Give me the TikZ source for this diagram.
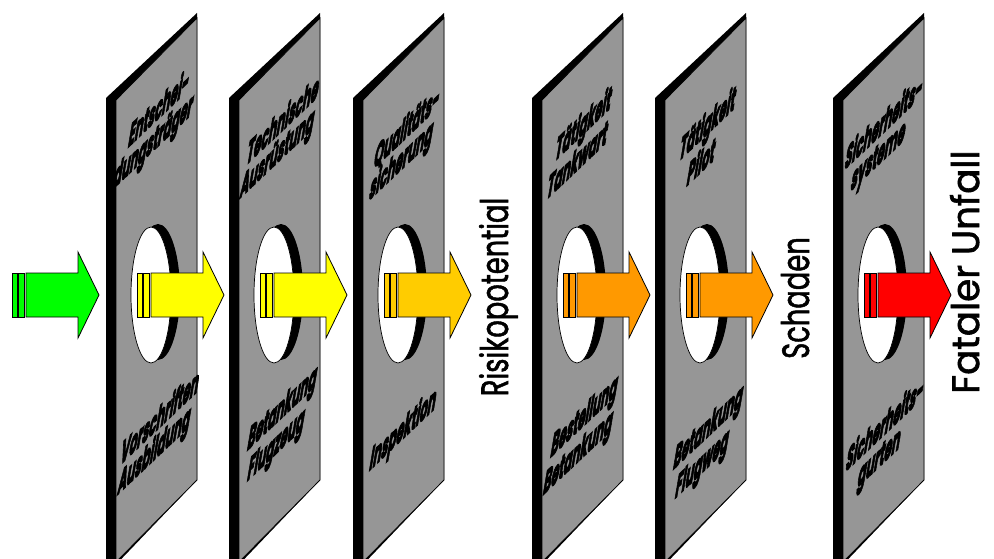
\documentclass[tikz,border=0pt]{standalone}
\usepackage{fontspec}
\newfontfamily\popb[BoldFeatures={FakeBold=5}]{Poppins}
\newfontfamily\popm[FakeBold=1.6]{Poppins}
\definecolor{pgray}{HTML}{969696}
\definecolor{agreen}{HTML}{00FF00}
\definecolor{ayellow}{HTML}{FFFF00}
\definecolor{aamber}{HTML}{FFCC00}
\definecolor{aorange}{HTML}{FF9900}
\definecolor{ared}{HTML}{FF0000}
\newcommand\slabpanel[1]{%
  \fill[black] (#1,575) -- (#1,98) -- (#1+91,13) -- (#1+91,480) -- cycle;
  \draw[panelface] (#1+10,100) -- (#1+91,18) -- (#1+91,480) -- (#1+10,562) -- cycle;
  \fill[black] (#1+52,292) ellipse [x radius=22pt, y radius=68pt];
  \draw[fill=white, line width=0.7pt] (#1+45,295) ellipse [x radius=20pt, y radius=68pt];
}
\newcommand\flowarrow[2]{%
  \draw[arrowpart, fill=#2] (#1,273) rectangle (#1+5,317);
  \draw[arrowpart, fill=#2] (#1+6,273) rectangle (#1+12,317);
  \draw[arrowpart, fill=#2] (#1+14,273) -- (#1+66,273) -- (#1+66,252) -- (#1+87,295)
     -- (#1+66,338) -- (#1+66,317) -- (#1+14,317) -- cycle;
}
\begin{document}
\begin{tikzpicture}[x=1pt,y=-1pt,
  panelface/.style={fill=pgray, draw=black, line width=0.8pt, line join=miter},
  arrowpart/.style={draw=black, line width=0.8pt, line join=miter},
  ptext/.style={font=\popb\bfseries\fontsize{31}{29}\selectfont, align=center,
     inner sep=0pt, cm={0.39,0.37,0.19,1.12,(0,0)}},
  vlabel/.style={font=\popm\fontsize{38}{40}\selectfont, inner sep=0pt,
     anchor=base, rotate=90, xscale=0.72}]
\useasboundingbox (0,0) rectangle (994,559);
\clip (0,0) rectangle (994,559);

\flowarrow{12}{agreen}

\slabpanel{106}
\flowarrow{137}{ayellow}
\slabpanel{229}
\flowarrow{260}{ayellow}
\slabpanel{353}
\flowarrow{384}{aamber}
\slabpanel{532}
\flowarrow{563}{aorange}
\slabpanel{655}
\flowarrow{686}{aorange}
\slabpanel{833}
\flowarrow{864}{ared}

\node[ptext] (t1a) at (156,127) {Entschei-\\dungsträger};
\node[ptext] (t1b) at (157,436) {Vorschriften\\Ausbildung};
\node[ptext] (t2a) at (280,139) {Technische\\Ausrüstung};
\node[ptext] (t2b) at (279,429) {Betankung\\Flugzeug};
\node[ptext] (t3a) at (404,146) {Qualitäts-\\sicherung};
\node[ptext] (t3b) at (403,431) {Inspektion};
\node[ptext] (t4a) at (581,140) {Tätigkeit\\Tankwart};
\node[ptext] (t4b) at (581,437) {Bestellung\\Betankung};
\node[ptext] (t5a) at (705,141) {Tätigkeit\\Pilot};
\node[ptext] (t5b) at (705,448) {Betankung\\Flugweg};
\node[ptext] (t6a) at (881,141) {Sicherheits-\\systeme};
\node[ptext] (t6b) at (882,443) {Sicherheits-\\gurten};

\node[vlabel] (risk) at (508,297) {Risikopotential};
\node[vlabel] (schaden) at (809,298) {Schaden};
\node[vlabel, xscale=1.36] (fatal) at (979,272) {Fataler Unfall};
\end{tikzpicture}
\end{document}
